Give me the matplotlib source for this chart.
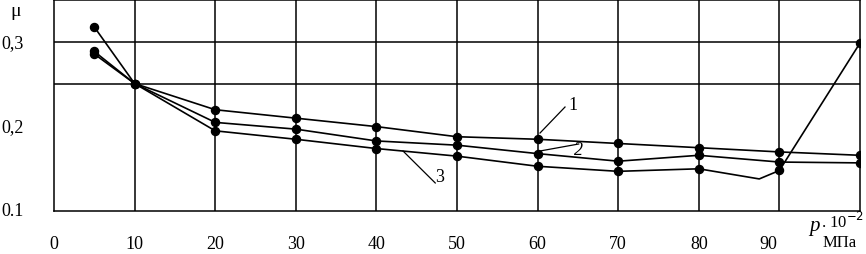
import matplotlib
matplotlib.use("Agg")
import matplotlib.pyplot as plt
import matplotlib.transforms as mtransforms

# measured points, pressure p (x 10^-2 MPa) vs friction coefficient mu
p = [5, 10, 20, 30, 40, 50, 60, 70, 80, 90, 100]
mu_1 = [0.318, 0.251, 0.220, 0.210, 0.200, 0.188, 0.185, 0.180, 0.175, 0.170, 0.166]
mu_2 = [0.289, 0.251, 0.205, 0.197, 0.183, 0.178, 0.168, 0.159, 0.166, 0.158, 0.157]
mu_3 = [0.286, 0.251, 0.195, 0.185, 0.174, 0.165, 0.153, 0.147, 0.150, 0.148, 0.299]
# curve 3 dips between 80 and 90 (no marker there)
dip_p = 87.5
dip_mu = 0.138

x_ticks = [0, 10, 20, 30, 40, 50, 60, 70, 80, 90]
x_tick_pos = [0, 10, 20, 30, 40, 50, 60, 70, 80, 88.6]
y_ticks = [0.3, 0.2, 0.1]
y_tick_labels = ["0,3", "0,2", "0.1"]

# curve labels: text, text position, leader start, leader end
curve_labels = [
    ("1", (64.4, 0.2256), (60.3, 0.1924), (63.4, 0.2232)),
    ("2", (65.1, 0.1723), (60.3, 0.1711), (65.1, 0.1794)),
    ("3", (47.9, 0.1403), (43.3, 0.1711), (47.3, 0.1332)),
]

plt.rcParams['font.family'] = ['Liberation Serif', 'DejaVu Serif']

fig = plt.figure(figsize=(8.66, 2.55), dpi=100)
ax = fig.add_axes([54 / 866, 43 / 255, 806 / 866, 211 / 255])
ax.set_xlim(0, 100)
ax.set_ylim(0.1, 0.35)

# grid: verticals every 10, horizontals only at 0.25 and 0.3
for xv in range(10, 100, 10):
    ax.axvline(xv, color='black', lw=1.1, zorder=1)
for yv in [0.25, 0.3]:
    ax.axhline(yv, color='black', lw=1.1, zorder=1)

for s in ax.spines.values():
    s.set_linewidth(1.1)
ax.set_xticks([])
ax.set_yticks([])

mk = dict(color='black', lw=1.2, marker='o', markersize=5.8, zorder=3)
ax.plot(p, mu_1, **mk)
ax.plot(p, mu_2, **mk)
p3 = p[:9] + [dip_p] + p[9:]
m3 = mu_3[:9] + [dip_mu] + mu_3[9:]
ax.plot(p3, m3, markevery=[i for i in range(len(p3)) if i != 9], **mk)

for lab, txy, a, b in curve_labels:
    ax.plot([a[0], b[0]], [a[1], b[1]], color='black', lw=0.9, zorder=2)
    ax.text(txy[0], txy[1], lab, fontsize=13, ha='center', va='center',
            style='italic' if lab == "2" else 'normal')

# tick labels as text
trans_x = mtransforms.blended_transform_factory(ax.transData, fig.transFigure)
for pos, lab in zip(x_tick_pos, x_ticks):
    ax.text(pos, 1 - 245 / 255, str(lab), transform=trans_x, ha='center',
            va='center', fontsize=13)
trans_y = mtransforms.blended_transform_factory(fig.transFigure, ax.transData)
for yv, lab in zip(y_ticks, y_tick_labels):
    ax.text(1 / 866, yv, lab, transform=trans_y, ha='left', va='center',
            fontsize=13)

fig.text(10 / 866, 1 - 11 / 255, "μ", ha='left', va='center', fontsize=14)
fig.text(814 / 866, 1 - 227 / 255, "p", ha='center', va='center',
         fontsize=15, style='italic')
fig.text(821 / 866, 1 - 222 / 255, r". 10$^{-2}$", ha='left', va='center',
         fontsize=12)
fig.text(823 / 866, 1 - 243 / 255, "МПа", ha='left', va='center', fontsize=12)

fig.savefig("out.png", dpi=100)
